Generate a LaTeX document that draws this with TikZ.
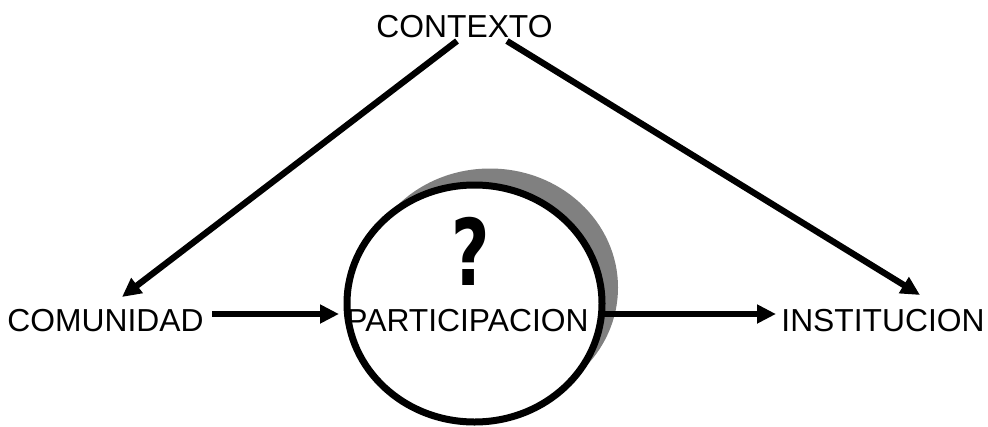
\documentclass[tikz,border=0pt]{standalone}
\usepackage{fontspec}
\setmainfont{Liberation Sans}
\newfontfamily\qfont{DejaVu Sans}
\usetikzlibrary{arrows.meta,shapes.geometric}
\definecolor{shadowgray}{RGB}{128,128,128}
\begin{document}
\begin{tikzpicture}[x=1pt,y=-1pt,
  lbl/.style={font=\fontsize{31.8}{38}\selectfont, inner sep=0pt, anchor=base},
  arr/.style={line width=6.3pt, -{Triangle[length=19pt,width=18pt]}}]
\useasboundingbox (0,0) rectangle (988,426);
% shadow and circle
\fill[shadowgray] (490,287.5) ellipse [x radius=128, y radius=119];
\node[ellipse, draw, fill=white, line width=7pt, minimum width=255pt,
      minimum height=237pt, inner sep=0pt] (part) at (474.5,303.5) {};
\node[inner sep=0pt] (q) at (471,251)
  {\scalebox{0.72}[1]{\qfont\bfseries\fontsize{92}{94}\selectfont ?}};
% labels
\node[lbl] (ctx) at (464.5,37) {CONTEXTO};
\node[lbl] (com) at (105.5,331) {COMUNIDAD};
\node[lbl] (ptxt) at (467.5,331) {PARTICIPACION};
\node[lbl] (ins) at (883,331) {INSTITUCION};
% connector ends
\coordinate (ctxL) at (457,41);
\coordinate (ctxR) at (507,41);
\coordinate (comT) at (122,297);
\coordinate (insT) at (920,295);
\coordinate (comE) at (212,314);
\coordinate (partW) at (339,314);
\coordinate (partE) at (602,314);
\coordinate (insW) at (776,314);
% connectors
\draw[arr] (ctxL) -- (comT);
\draw[arr] (ctxR) -- (insT);
\draw[arr] (comE) -- (partW);
\draw[arr] (partE) -- (insW);
\end{tikzpicture}
\end{document}
